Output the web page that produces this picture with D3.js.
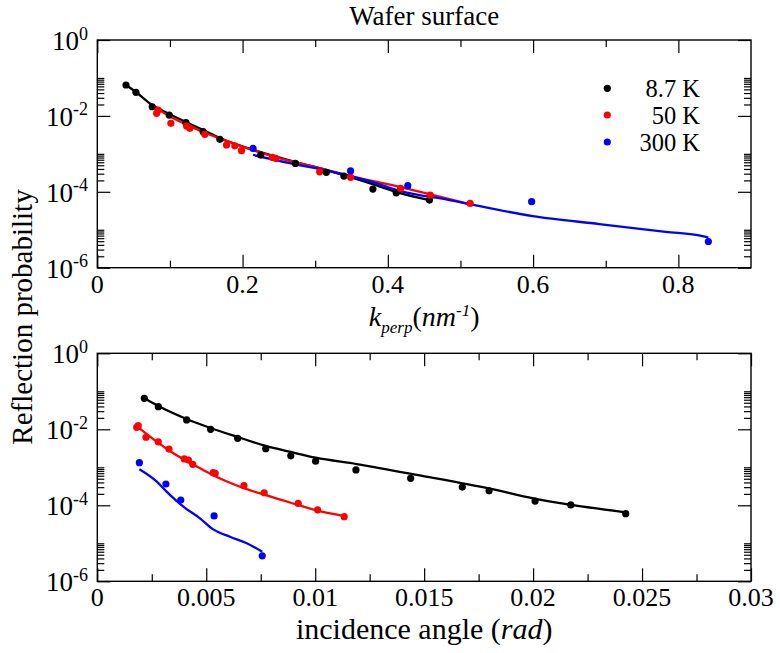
<!DOCTYPE html>
<html><head><meta charset="utf-8">
<script src="https://cdn.jsdelivr.net/npm/d3@7"></script>
<style>
body{margin:0;background:#fff;}
svg{display:block;font-family:"Liberation Serif","Times New Roman",serif;}
</style></head><body><svg id="c" width="780" height="653"></svg>
<script>
// ---------------- DATA ----------------
const seriesNames = ["8.7 K", "50 K", "300 K"];
const seriesColors = ["#000000", "#ff0000", "#0000ff"];

// Top panel: reflection probability vs k_perp (nm^-1)
const topBlackPtsX = [0.0395,0.0532,0.0756,0.099,0.122,0.1457,0.1687,0.225,0.2727,0.3153,0.3395,0.3794,0.4115,0.4573];
const topBlackPtsY = [0.0652,0.0418,0.0174,0.01054,0.00661,0.00383,0.00241,0.000929,0.000561,0.000325,0.000259,0.000118,0.0000942,0.0000605];
const topRedPtsX = [0.0817,0.0838,0.1013,0.1229,0.1274,0.148,0.1779,0.1893,0.1985,0.2411,0.2456,0.3061,0.3487,0.4175,0.4583,0.5133];
const topRedPtsY = [0.01167,0.01426,0.00637,0.00541,0.0047,0.00327,0.00171,0.00163,0.00121,0.000807,0.00076,0.000337,0.00024,0.000123,0.0000818,0.0000494];
const topBluePtsX = [0.2145,0.3487,0.4275,0.598,0.8413];
const topBluePtsY = [0.00139,0.000355,0.000145,0.000055,0.0000049];

const topBlackFitX = [0.0395,0.0532,0.0756,0.099,0.122,0.1457,0.1687,0.225,0.2731,0.3157,0.3391,0.379,0.412,0.4573];
const topBlackFitY = [0.0652,0.0426,0.0193,0.0112,0.00689,0.00424,0.00261,0.00111,0.000608,0.000374,0.000276,0.00016,0.0000984,0.0000605];
const topRedFitX = [0.0817,0.1013,0.1274,0.148,0.1783,0.214,0.2456,0.3061,0.3487,0.4175,0.4573,0.5123];
const topRedFitY = [0.0158,0.00933,0.00537,0.0036,0.00217,0.00126,0.000822,0.000422,0.000259,0.000133,0.0000871,0.0000474];
const topBlueFitX = [0.2145,0.2649,0.3199,0.3749,0.4161,0.4848,0.5993,0.6911,0.7827,0.833,0.8413];
const topBlueFitY = [0.000933,0.000571,0.000352,0.000192,0.000106,0.0000605,0.0000229,0.0000141,0.00000883,0.00000681,0.00000621];

// Bottom panel: reflection probability vs incidence angle (rad)
const botBlackPtsX = [0.002157,0.0028,0.0041,0.0052,0.00644,0.00773,0.00888,0.01002,0.01187,0.01438,0.01675,0.01798,0.02009,0.02173,0.02425];
const botBlackPtsY = [0.0655,0.0394,0.0176,0.01,0.00579,0.00309,0.002,0.00145,0.000851,0.000513,0.000302,0.00024,0.000129,0.000102,0.0000603];
const botRedPtsX = [0.001808,0.00188,0.002235,0.0028,0.00329,0.00399,0.00418,0.00438,0.00532,0.00541,0.00673,0.00766,0.00922,0.01011,0.01133];
const botRedPtsY = [0.0113,0.01245,0.00617,0.00468,0.00302,0.00166,0.00155,0.0012,0.000724,0.000692,0.000331,0.000214,0.000112,0.0000759,0.0000501];
const botBluePtsX = [0.00193,0.00315,0.00383,0.00536,0.00757];
const botBluePtsY = [0.00132,0.000363,0.000138,0.0000525,0.00000468];

const botBlackFitX = [0.002157,0.0028,0.0041,0.0052,0.00644,0.00773,0.00888,0.01002,0.0119,0.01496,0.01802,0.02001,0.02425];
const botBlackFitY = [0.0655,0.041,0.01866,0.0108,0.00627,0.00364,0.00253,0.00179,0.00122,0.00059,0.000274,0.000153,0.0000655];
const botRedFitX = [0.00188,0.00273,0.00349,0.00425,0.00536,0.00655,0.0077,0.00922,0.01011,0.01134];
const botRedFitY = [0.0113,0.00472,0.00233,0.00132,0.000601,0.000308,0.000187,0.000102,0.0000721,0.0000522];
const botBlueFitX = [0.00193,0.00273,0.00318,0.00395,0.00471,0.00532,0.00609,0.00686,0.00757];
const botBlueFitY = [0.000885,0.000418,0.000228,0.0000918,0.0000455,0.0000233,0.0000149,0.00001,0.00000601];

// Ticks
const topXTicks = [0, 0.2, 0.4, 0.6, 0.8];
const topXTickLabels = ["0", "0.2", "0.4", "0.6", "0.8"];
const botXTicks = [0, 0.005, 0.01, 0.015, 0.02, 0.025, 0.03];
const botXTickLabels = ["0", "0.005", "0.01", "0.015", "0.02", "0.025", "0.03"];
const yTicks = [1, 1e-2, 1e-4, 1e-6];
const yTickExps = ["0", "-2", "-4", "-6"];

// ---------------- DRAW ----------------
const svg = d3.select("#c");
const FONT = "Liberation Serif";
const Lx = 97.3, Rx = 751;

const zip = (xs, ys) => xs.map((v, i) => [v, ys[i]]);

const panels = [
  { top: 40, bot: 267.7, xDomain: [0, 0.9], xTicks: topXTicks, xLabels: topXTickLabels, xMinorStep: 0.1, labOff: 25.6,
    pts: [zip(topBlackPtsX, topBlackPtsY), zip(topRedPtsX, topRedPtsY), zip(topBluePtsX, topBluePtsY)],
    fits: [zip(topBlackFitX, topBlackFitY), zip(topRedFitX, topRedFitY), zip(topBlueFitX, topBlueFitY)] },
  { top: 353.3, bot: 581.3, xDomain: [0, 0.03], xTicks: botXTicks, xLabels: botXTickLabels, xMinorStep: 0.0025, labOff: 24.5,
    pts: [zip(botBlackPtsX, botBlackPtsY), zip(botRedPtsX, botRedPtsY), zip(botBluePtsX, botBluePtsY)],
    fits: [zip(botBlackFitX, botBlackFitY), zip(botRedFitX, botRedFitY), zip(botBlueFitX, botBlueFitY)] }
];

panels.forEach(p => {
  const x = d3.scaleLinear().domain(p.xDomain).range([Lx, Rx]);
  const y = d3.scaleLog().domain([1e-6, 1]).range([p.bot, p.top]);
  const g = svg.append("g");

  const xMinor = [];
  for (let v = p.xMinorStep; v < p.xDomain[1] - 1e-12; v += p.xMinorStep) {
    if (!p.xTicks.some(t => Math.abs(t - v) < 1e-9)) xMinor.push(v);
  }
  const yMinor = [];
  for (let e = -6; e < 0; e += 2) {
    for (let k = 2; k <= 10; k++) yMinor.push(k * Math.pow(10, e));
  }

  const addAxis = (axis, tr) => {
    const a = g.append("g").attr("transform", tr).call(axis);
    a.select(".domain").remove();
    a.selectAll("line").attr("stroke", "#000").attr("stroke-width", 1.2);
  };
  addAxis(d3.axisBottom(x).tickValues(p.xTicks).tickSize(-13).tickFormat(""), `translate(0,${p.bot})`);
  addAxis(d3.axisTop(x).tickValues(p.xTicks).tickSize(-13).tickFormat(""), `translate(0,${p.top})`);
  addAxis(d3.axisBottom(x).tickValues(xMinor).tickSize(-7).tickFormat(""), `translate(0,${p.bot})`);
  addAxis(d3.axisTop(x).tickValues(xMinor).tickSize(-7).tickFormat(""), `translate(0,${p.top})`);
  addAxis(d3.axisLeft(y).tickValues(yTicks).tickSize(-13).tickFormat(""), `translate(${Lx},0)`);
  addAxis(d3.axisRight(y).tickValues(yTicks).tickSize(-13).tickFormat(""), `translate(${Rx},0)`);
  addAxis(d3.axisLeft(y).tickValues(yMinor).tickSize(-7).tickFormat(""), `translate(${Lx},0)`);
  addAxis(d3.axisRight(y).tickValues(yMinor).tickSize(-7).tickFormat(""), `translate(${Rx},0)`);

  g.append("rect").attr("x", Lx).attr("y", p.top).attr("width", Rx - Lx).attr("height", p.bot - p.top)
    .attr("fill", "none").attr("stroke", "#000").attr("stroke-width", 1.4);

  g.selectAll(".xl").data(p.xTicks).enter().append("text")
    .attr("x", d => x(d)).attr("y", p.bot + p.labOff)
    .attr("text-anchor", "middle").attr("font-size", 26).attr("font-family", FONT)
    .text((d, i) => p.xLabels[i]);

  yTicks.forEach((v, i) => {
    const t = g.append("text").attr("x", 88).attr("y", y(v) + 10)
      .attr("text-anchor", "end").attr("font-family", FONT).attr("font-size", 27);
    t.append("tspan").text("10");
    t.append("tspan").attr("font-size", 18).attr("dy", -10.5).text(yTickExps[i]);
  });

  const line = d3.line().x(d => x(d[0])).y(d => y(d[1])).curve(d3.curveMonotoneX);
  p.fits.forEach((f, i) => {
    g.append("path").datum(f).attr("d", line).attr("fill", "none")
      .attr("stroke", seriesColors[i]).attr("stroke-width", 2.3);
  });
  p.pts.forEach((s, i) => {
    g.selectAll(null).data(s).enter().append("circle")
      .attr("cx", d => x(d[0])).attr("cy", d => y(d[1])).attr("r", 3.6)
      .attr("fill", seriesColors[i]);
  });
});

svg.append("text").attr("x", 424.2).attr("y", 25).attr("text-anchor", "middle")
  .attr("font-size", 27).attr("font-family", FONT).text("Wafer surface");

svg.append("text").attr("transform", "translate(32,317) rotate(-90)").attr("text-anchor", "middle")
  .attr("font-size", 29).attr("font-family", FONT).text("Reflection probability");

const kl = svg.append("text").attr("x", 424.2).attr("y", 326).attr("text-anchor", "middle")
  .attr("font-size", 28).attr("font-family", FONT);
kl.append("tspan").attr("font-style", "italic").text("k");
kl.append("tspan").attr("font-style", "italic").attr("font-size", 17).attr("dy", 7).text("perp");
kl.append("tspan").attr("dy", -7).text("(");
kl.append("tspan").attr("font-style", "italic").text("nm");
kl.append("tspan").attr("font-style", "italic").attr("font-size", 17).attr("dy", -10).text("-1");
kl.append("tspan").attr("dy", 10).text(")");

const bl = svg.append("text").attr("x", 424.2).attr("y", 639).attr("text-anchor", "middle")
  .attr("font-size", 30).attr("font-family", FONT);
bl.append("tspan").text("incidence angle (");
bl.append("tspan").attr("font-style", "italic").text("rad");
bl.append("tspan").text(")");

const legY = [88.3, 115, 142];
seriesNames.forEach((n, i) => {
  svg.append("circle").attr("cx", 607.3).attr("cy", legY[i]).attr("r", 3.6).attr("fill", seriesColors[i]);
  svg.append("text").attr("x", 700).attr("y", legY[i] + 9).attr("text-anchor", "end")
    .attr("font-size", 24.5).attr("font-family", FONT).text(n);
});
</script></body></html>
